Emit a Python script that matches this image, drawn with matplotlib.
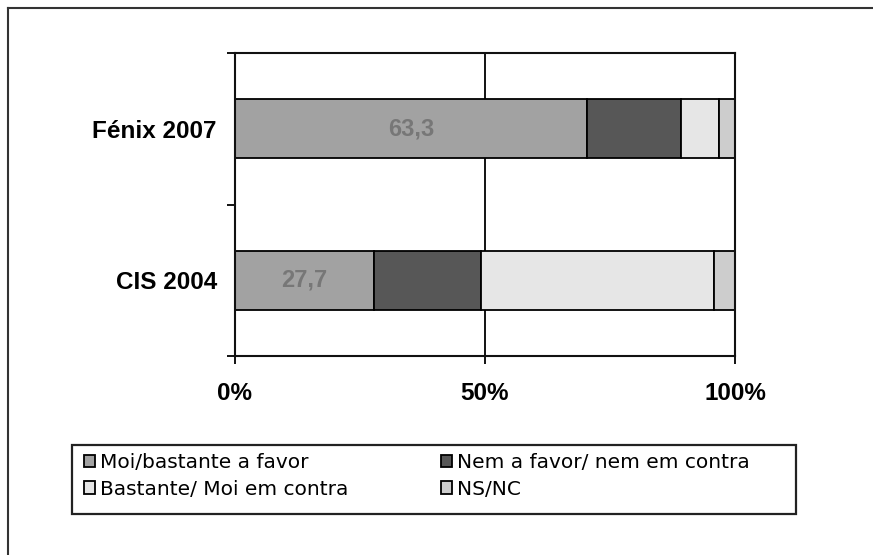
import matplotlib
matplotlib.use("Agg")
import matplotlib.pyplot as plt
from matplotlib.lines import Line2D
from matplotlib.patches import Rectangle
import numpy as np

# Data (top to bottom)
categories = ["Fénix 2007", "CIS 2004"]
series_names = ["Moi/bastante a favor", "Nem a favor/ nem em contra",
                "Bastante/ Moi em contra", "NS/NC"]
fenix = [70.4, 18.7, 7.6, 3.3]
cis = [27.8, 21.5, 46.5, 4.2]
value_labels = ["63,3", "27,7"]
colors = ["#a2a2a2", "#575757", "#e6e6e6", "#cdcdcd"]
xtick_vals = [0, 50, 100]
xtick_labels = ["0%", "50%", "100%"]

W, H = 873, 555
fig = plt.figure(figsize=(W / 100, H / 100), dpi=100)
ax = fig.add_axes([235 / W, 1 - 356 / H, 500 / W, (356 - 53) / H])

data = np.array([fenix, cis])
ypos = np.arange(len(categories))
left = np.zeros(len(categories))
bars = []
for i, name in enumerate(series_names):
    b = ax.barh(ypos, data[:, i], left=left, height=0.39, color=colors[i],
                edgecolor="black", linewidth=1.3, label=name, zorder=2)
    bars.append(b)
    left += data[:, i]

ax.bar_label(bars[0], labels=value_labels, label_type="center",
             color="#777777", fontsize=17, fontweight="bold",
             family="Liberation Sans")

ax.set_xlim(0, 100)
ax.set_ylim(-0.5, 1.5)
ax.invert_yaxis()

ax.set_xticks(xtick_vals)
ax.set_xticklabels(xtick_labels, fontsize=17.5, fontweight="bold",
                   family="Liberation Sans")
ax.tick_params(axis="x", direction="out", length=6, width=1.3, pad=13)

ax.set_yticks([-0.5, 0.5, 1.5])
ax.set_yticklabels([])
ax.tick_params(axis="y", which="major", direction="out", length=6, width=1.3)
ax.set_yticks(ypos, minor=True)
ax.set_yticklabels(categories, minor=True, fontsize=17.5, fontweight="bold",
                   family="Liberation Sans")
ax.tick_params(axis="y", which="minor", length=0, pad=13)

ax.xaxis.grid(True, color="black", linewidth=1.3)
ax.set_axisbelow(True)
for s in ax.spines.values():
    s.set_linewidth(1.5)
    s.set_color("#111111")

# legend frame
lx0, lx1, ly0, ly1 = 72, 796, 445, 514
fig.add_artist(Rectangle((lx0 / W, 1 - ly1 / H), (lx1 - lx0) / W, (ly1 - ly0) / H,
                         transform=fig.transFigure, facecolor="white",
                         edgecolor="#222222", linewidth=1.6))
order = [0, 2, 1, 3]  # row-major as in the reference
leg = fig.legend(handles=[bars[i] for i in order],
                 labels=[series_names[i] for i in order], ncol=2,
                 loc="upper left", bbox_to_anchor=(80 / W, 1 - 449 / H),
                 frameon=False, fontsize=14.5, handlelength=0.55,
                 handleheight=0.55, handletextpad=0.25, columnspacing=4.6,
                 labelspacing=0.38, borderpad=0.2, borderaxespad=0)
for t in leg.get_texts():
    t.set_family("DejaVu Sans")

# outer frame
fig.add_artist(Line2D([8 / W, 1], [1 - 8 / H, 1 - 8 / H], transform=fig.transFigure,
                      color="#333333", linewidth=1.5))
fig.add_artist(Line2D([8 / W, 8 / W], [0, 1 - 8 / H], transform=fig.transFigure,
                      color="#333333", linewidth=1.5))

fig.savefig("out.png", dpi=100)
